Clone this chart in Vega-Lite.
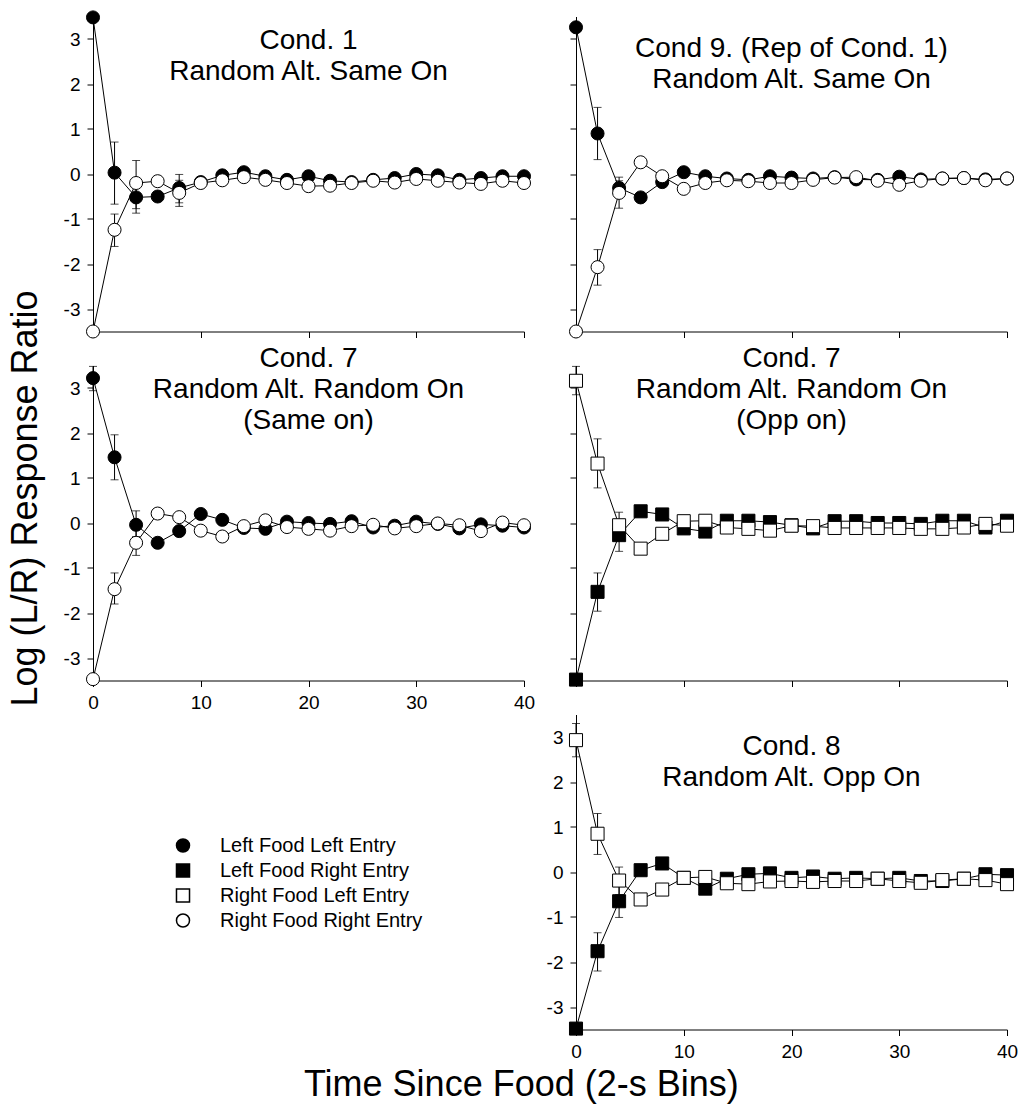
{
  "$schema": "https://vega.github.io/schema/vega-lite/v6.json",
  "background": "white",
  "padding": {"left": 7, "top": 8.5, "right": 5, "bottom": 5},
  "datasets": {
    "obs": [
      {"panel":"c1","series":"Left Food Left Entry","bin":0,"ratio":3.48},
      {"panel":"c1","series":"Left Food Left Entry","bin":2,"ratio":0.03,"lo":-0.67,"hi":0.71},
      {"panel":"c1","series":"Left Food Left Entry","bin":4,"ratio":-0.52,"lo":-0.87,"hi":-0.2},
      {"panel":"c1","series":"Left Food Left Entry","bin":6,"ratio":-0.5},
      {"panel":"c1","series":"Left Food Left Entry","bin":8,"ratio":-0.31,"lo":-0.64,"hi":-0.01},
      {"panel":"c1","series":"Left Food Left Entry","bin":10,"ratio":-0.18},
      {"panel":"c1","series":"Left Food Left Entry","bin":12,"ratio":-0.03},
      {"panel":"c1","series":"Left Food Left Entry","bin":14,"ratio":0.04},
      {"panel":"c1","series":"Left Food Left Entry","bin":16,"ratio":-0.05},
      {"panel":"c1","series":"Left Food Left Entry","bin":18,"ratio":-0.13},
      {"panel":"c1","series":"Left Food Left Entry","bin":20,"ratio":-0.05},
      {"panel":"c1","series":"Left Food Left Entry","bin":22,"ratio":-0.15},
      {"panel":"c1","series":"Left Food Left Entry","bin":24,"ratio":-0.18},
      {"panel":"c1","series":"Left Food Left Entry","bin":26,"ratio":-0.13},
      {"panel":"c1","series":"Left Food Left Entry","bin":28,"ratio":-0.09},
      {"panel":"c1","series":"Left Food Left Entry","bin":30,"ratio":0.0},
      {"panel":"c1","series":"Left Food Left Entry","bin":32,"ratio":-0.03},
      {"panel":"c1","series":"Left Food Left Entry","bin":34,"ratio":-0.13},
      {"panel":"c1","series":"Left Food Left Entry","bin":36,"ratio":-0.09},
      {"panel":"c1","series":"Left Food Left Entry","bin":38,"ratio":-0.05},
      {"panel":"c1","series":"Left Food Left Entry","bin":40,"ratio":-0.05},
      {"panel":"c1","series":"Right Food Right Entry","bin":0,"ratio":-3.5},
      {"panel":"c1","series":"Right Food Right Entry","bin":2,"ratio":-1.24,"lo":-1.61,"hi":-0.89},
      {"panel":"c1","series":"Right Food Right Entry","bin":4,"ratio":-0.2,"lo":-0.77,"hi":0.3},
      {"panel":"c1","series":"Right Food Right Entry","bin":6,"ratio":-0.16},
      {"panel":"c1","series":"Right Food Right Entry","bin":8,"ratio":-0.42,"lo":-0.72,"hi":-0.14},
      {"panel":"c1","series":"Right Food Right Entry","bin":10,"ratio":-0.2},
      {"panel":"c1","series":"Right Food Right Entry","bin":12,"ratio":-0.14},
      {"panel":"c1","series":"Right Food Right Entry","bin":14,"ratio":-0.07},
      {"panel":"c1","series":"Right Food Right Entry","bin":16,"ratio":-0.13},
      {"panel":"c1","series":"Right Food Right Entry","bin":18,"ratio":-0.2},
      {"panel":"c1","series":"Right Food Right Entry","bin":20,"ratio":-0.27},
      {"panel":"c1","series":"Right Food Right Entry","bin":22,"ratio":-0.26},
      {"panel":"c1","series":"Right Food Right Entry","bin":24,"ratio":-0.2},
      {"panel":"c1","series":"Right Food Right Entry","bin":26,"ratio":-0.15},
      {"panel":"c1","series":"Right Food Right Entry","bin":28,"ratio":-0.19},
      {"panel":"c1","series":"Right Food Right Entry","bin":30,"ratio":-0.11},
      {"panel":"c1","series":"Right Food Right Entry","bin":32,"ratio":-0.15},
      {"panel":"c1","series":"Right Food Right Entry","bin":34,"ratio":-0.19},
      {"panel":"c1","series":"Right Food Right Entry","bin":36,"ratio":-0.22},
      {"panel":"c1","series":"Right Food Right Entry","bin":38,"ratio":-0.15},
      {"panel":"c1","series":"Right Food Right Entry","bin":40,"ratio":-0.2},

      {"panel":"c9","series":"Left Food Left Entry","bin":0,"ratio":3.26},
      {"panel":"c9","series":"Left Food Left Entry","bin":2,"ratio":0.9,"lo":0.32,"hi":1.48},
      {"panel":"c9","series":"Left Food Left Entry","bin":4,"ratio":-0.31,"lo":-0.5,"hi":-0.07},
      {"panel":"c9","series":"Left Food Left Entry","bin":6,"ratio":-0.52},
      {"panel":"c9","series":"Left Food Left Entry","bin":8,"ratio":-0.18},
      {"panel":"c9","series":"Left Food Left Entry","bin":10,"ratio":0.04},
      {"panel":"c9","series":"Left Food Left Entry","bin":12,"ratio":-0.05},
      {"panel":"c9","series":"Left Food Left Entry","bin":14,"ratio":-0.1},
      {"panel":"c9","series":"Left Food Left Entry","bin":16,"ratio":-0.13},
      {"panel":"c9","series":"Left Food Left Entry","bin":18,"ratio":-0.05},
      {"panel":"c9","series":"Left Food Left Entry","bin":20,"ratio":-0.08},
      {"panel":"c9","series":"Left Food Left Entry","bin":22,"ratio":-0.1},
      {"panel":"c9","series":"Left Food Left Entry","bin":24,"ratio":-0.07},
      {"panel":"c9","series":"Left Food Left Entry","bin":26,"ratio":-0.12},
      {"panel":"c9","series":"Left Food Left Entry","bin":28,"ratio":-0.13},
      {"panel":"c9","series":"Left Food Left Entry","bin":30,"ratio":-0.06},
      {"panel":"c9","series":"Left Food Left Entry","bin":32,"ratio":-0.12},
      {"panel":"c9","series":"Left Food Left Entry","bin":34,"ratio":-0.1},
      {"panel":"c9","series":"Left Food Left Entry","bin":36,"ratio":-0.09},
      {"panel":"c9","series":"Left Food Left Entry","bin":38,"ratio":-0.12},
      {"panel":"c9","series":"Left Food Left Entry","bin":40,"ratio":-0.1},
      {"panel":"c9","series":"Right Food Right Entry","bin":0,"ratio":-3.5},
      {"panel":"c9","series":"Right Food Right Entry","bin":2,"ratio":-2.07,"lo":-2.47,"hi":-1.68},
      {"panel":"c9","series":"Right Food Right Entry","bin":4,"ratio":-0.42,"lo":-0.76,"hi":-0.15},
      {"panel":"c9","series":"Right Food Right Entry","bin":6,"ratio":0.26},
      {"panel":"c9","series":"Right Food Right Entry","bin":8,"ratio":-0.05},
      {"panel":"c9","series":"Right Food Right Entry","bin":10,"ratio":-0.33},
      {"panel":"c9","series":"Right Food Right Entry","bin":12,"ratio":-0.2},
      {"panel":"c9","series":"Right Food Right Entry","bin":14,"ratio":-0.14},
      {"panel":"c9","series":"Right Food Right Entry","bin":16,"ratio":-0.16},
      {"panel":"c9","series":"Right Food Right Entry","bin":18,"ratio":-0.2},
      {"panel":"c9","series":"Right Food Right Entry","bin":20,"ratio":-0.2},
      {"panel":"c9","series":"Right Food Right Entry","bin":22,"ratio":-0.13},
      {"panel":"c9","series":"Right Food Right Entry","bin":24,"ratio":-0.08},
      {"panel":"c9","series":"Right Food Right Entry","bin":26,"ratio":-0.07},
      {"panel":"c9","series":"Right Food Right Entry","bin":28,"ratio":-0.15},
      {"panel":"c9","series":"Right Food Right Entry","bin":30,"ratio":-0.24},
      {"panel":"c9","series":"Right Food Right Entry","bin":32,"ratio":-0.15},
      {"panel":"c9","series":"Right Food Right Entry","bin":34,"ratio":-0.1},
      {"panel":"c9","series":"Right Food Right Entry","bin":36,"ratio":-0.09},
      {"panel":"c9","series":"Right Food Right Entry","bin":38,"ratio":-0.14},
      {"panel":"c9","series":"Right Food Right Entry","bin":40,"ratio":-0.1},

      {"panel":"c7s","series":"Left Food Left Entry","bin":0,"ratio":3.22,"lo":2.94,"hi":3.48},
      {"panel":"c7s","series":"Left Food Left Entry","bin":2,"ratio":1.46,"lo":0.96,"hi":1.96},
      {"panel":"c7s","series":"Left Food Left Entry","bin":4,"ratio":-0.04,"lo":-0.3,"hi":0.27},
      {"panel":"c7s","series":"Left Food Left Entry","bin":6,"ratio":-0.44},
      {"panel":"c7s","series":"Left Food Left Entry","bin":8,"ratio":-0.18},
      {"panel":"c7s","series":"Left Food Left Entry","bin":10,"ratio":0.2},
      {"panel":"c7s","series":"Left Food Left Entry","bin":12,"ratio":0.07},
      {"panel":"c7s","series":"Left Food Left Entry","bin":14,"ratio":-0.11},
      {"panel":"c7s","series":"Left Food Left Entry","bin":16,"ratio":-0.13},
      {"panel":"c7s","series":"Left Food Left Entry","bin":18,"ratio":0.03},
      {"panel":"c7s","series":"Left Food Left Entry","bin":20,"ratio":0.0},
      {"panel":"c7s","series":"Left Food Left Entry","bin":22,"ratio":-0.02},
      {"panel":"c7s","series":"Left Food Left Entry","bin":24,"ratio":0.04},
      {"panel":"c7s","series":"Left Food Left Entry","bin":26,"ratio":-0.1},
      {"panel":"c7s","series":"Left Food Left Entry","bin":28,"ratio":-0.06},
      {"panel":"c7s","series":"Left Food Left Entry","bin":30,"ratio":0.03},
      {"panel":"c7s","series":"Left Food Left Entry","bin":32,"ratio":-0.02},
      {"panel":"c7s","series":"Left Food Left Entry","bin":34,"ratio":-0.12},
      {"panel":"c7s","series":"Left Food Left Entry","bin":36,"ratio":-0.03},
      {"panel":"c7s","series":"Left Food Left Entry","bin":38,"ratio":-0.06},
      {"panel":"c7s","series":"Left Food Left Entry","bin":40,"ratio":-0.1},
      {"panel":"c7s","series":"Right Food Right Entry","bin":0,"ratio":-3.47},
      {"panel":"c7s","series":"Right Food Right Entry","bin":2,"ratio":-1.47,"lo":-1.8,"hi":-1.11},
      {"panel":"c7s","series":"Right Food Right Entry","bin":4,"ratio":-0.44,"lo":-0.72,"hi":-0.15},
      {"panel":"c7s","series":"Right Food Right Entry","bin":6,"ratio":0.21},
      {"panel":"c7s","series":"Right Food Right Entry","bin":8,"ratio":0.13},
      {"panel":"c7s","series":"Right Food Right Entry","bin":10,"ratio":-0.17},
      {"panel":"c7s","series":"Right Food Right Entry","bin":12,"ratio":-0.3},
      {"panel":"c7s","series":"Right Food Right Entry","bin":14,"ratio":-0.07},
      {"panel":"c7s","series":"Right Food Right Entry","bin":16,"ratio":0.06},
      {"panel":"c7s","series":"Right Food Right Entry","bin":18,"ratio":-0.09},
      {"panel":"c7s","series":"Right Food Right Entry","bin":20,"ratio":-0.13},
      {"panel":"c7s","series":"Right Food Right Entry","bin":22,"ratio":-0.17},
      {"panel":"c7s","series":"Right Food Right Entry","bin":24,"ratio":-0.07},
      {"panel":"c7s","series":"Right Food Right Entry","bin":26,"ratio":-0.04},
      {"panel":"c7s","series":"Right Food Right Entry","bin":28,"ratio":-0.12},
      {"panel":"c7s","series":"Right Food Right Entry","bin":30,"ratio":-0.07},
      {"panel":"c7s","series":"Right Food Right Entry","bin":32,"ratio":-0.01},
      {"panel":"c7s","series":"Right Food Right Entry","bin":34,"ratio":-0.05},
      {"panel":"c7s","series":"Right Food Right Entry","bin":36,"ratio":-0.18},
      {"panel":"c7s","series":"Right Food Right Entry","bin":38,"ratio":0.01},
      {"panel":"c7s","series":"Right Food Right Entry","bin":40,"ratio":-0.05},

      {"panel":"c7o","series":"Left Food Right Entry","bin":0,"ratio":-3.48},
      {"panel":"c7o","series":"Left Food Right Entry","bin":2,"ratio":-1.53,"lo":-1.96,"hi":-1.11},
      {"panel":"c7o","series":"Left Food Right Entry","bin":4,"ratio":-0.27,"lo":-0.63,"hi":0.0},
      {"panel":"c7o","series":"Left Food Right Entry","bin":6,"ratio":0.26},
      {"panel":"c7o","series":"Left Food Right Entry","bin":8,"ratio":0.19},
      {"panel":"c7o","series":"Left Food Right Entry","bin":10,"ratio":-0.12},
      {"panel":"c7o","series":"Left Food Right Entry","bin":12,"ratio":-0.19},
      {"panel":"c7o","series":"Left Food Right Entry","bin":14,"ratio":0.05},
      {"panel":"c7o","series":"Left Food Right Entry","bin":16,"ratio":0.05},
      {"panel":"c7o","series":"Left Food Right Entry","bin":18,"ratio":0.02},
      {"panel":"c7o","series":"Left Food Right Entry","bin":20,"ratio":-0.05},
      {"panel":"c7o","series":"Left Food Right Entry","bin":22,"ratio":-0.12},
      {"panel":"c7o","series":"Left Food Right Entry","bin":24,"ratio":0.04},
      {"panel":"c7o","series":"Left Food Right Entry","bin":26,"ratio":0.04},
      {"panel":"c7o","series":"Left Food Right Entry","bin":28,"ratio":0.0},
      {"panel":"c7o","series":"Left Food Right Entry","bin":30,"ratio":0.0},
      {"panel":"c7o","series":"Left Food Right Entry","bin":32,"ratio":-0.02},
      {"panel":"c7o","series":"Left Food Right Entry","bin":34,"ratio":0.05},
      {"panel":"c7o","series":"Left Food Right Entry","bin":36,"ratio":0.05},
      {"panel":"c7o","series":"Left Food Right Entry","bin":38,"ratio":-0.1},
      {"panel":"c7o","series":"Left Food Right Entry","bin":40,"ratio":0.05},
      {"panel":"c7o","series":"Right Food Left Entry","bin":0,"ratio":3.16,"lo":2.85,"hi":3.48},
      {"panel":"c7o","series":"Right Food Left Entry","bin":2,"ratio":1.32,"lo":0.78,"hi":1.87},
      {"panel":"c7o","series":"Right Food Left Entry","bin":4,"ratio":-0.05,"lo":-0.3,"hi":0.24},
      {"panel":"c7o","series":"Right Food Left Entry","bin":6,"ratio":-0.57},
      {"panel":"c7o","series":"Right Food Left Entry","bin":8,"ratio":-0.24},
      {"panel":"c7o","series":"Right Food Left Entry","bin":10,"ratio":0.04},
      {"panel":"c7o","series":"Right Food Left Entry","bin":12,"ratio":0.05},
      {"panel":"c7o","series":"Right Food Left Entry","bin":14,"ratio":-0.1},
      {"panel":"c7o","series":"Right Food Left Entry","bin":16,"ratio":-0.13},
      {"panel":"c7o","series":"Right Food Left Entry","bin":18,"ratio":-0.17},
      {"panel":"c7o","series":"Right Food Left Entry","bin":20,"ratio":-0.06},
      {"panel":"c7o","series":"Right Food Left Entry","bin":22,"ratio":-0.07},
      {"panel":"c7o","series":"Right Food Left Entry","bin":24,"ratio":-0.11},
      {"panel":"c7o","series":"Right Food Left Entry","bin":26,"ratio":-0.11},
      {"panel":"c7o","series":"Right Food Left Entry","bin":28,"ratio":-0.11},
      {"panel":"c7o","series":"Right Food Left Entry","bin":30,"ratio":-0.11},
      {"panel":"c7o","series":"Right Food Left Entry","bin":32,"ratio":-0.13},
      {"panel":"c7o","series":"Right Food Left Entry","bin":34,"ratio":-0.13},
      {"panel":"c7o","series":"Right Food Left Entry","bin":36,"ratio":-0.1},
      {"panel":"c7o","series":"Right Food Left Entry","bin":38,"ratio":-0.02},
      {"panel":"c7o","series":"Right Food Left Entry","bin":40,"ratio":-0.06},

      {"panel":"c8","series":"Left Food Right Entry","bin":0,"ratio":-3.48},
      {"panel":"c8","series":"Left Food Right Entry","bin":2,"ratio":-1.76,"lo":-2.2,"hi":-1.35},
      {"panel":"c8","series":"Left Food Right Entry","bin":4,"ratio":-0.65,"lo":-1.01,"hi":-0.3},
      {"panel":"c8","series":"Left Food Right Entry","bin":6,"ratio":0.04},
      {"panel":"c8","series":"Left Food Right Entry","bin":8,"ratio":0.19},
      {"panel":"c8","series":"Left Food Right Entry","bin":10,"ratio":-0.13},
      {"panel":"c8","series":"Left Food Right Entry","bin":12,"ratio":-0.37},
      {"panel":"c8","series":"Left Food Right Entry","bin":14,"ratio":-0.15},
      {"panel":"c8","series":"Left Food Right Entry","bin":16,"ratio":-0.05},
      {"panel":"c8","series":"Left Food Right Entry","bin":18,"ratio":-0.03},
      {"panel":"c8","series":"Left Food Right Entry","bin":20,"ratio":-0.13},
      {"panel":"c8","series":"Left Food Right Entry","bin":22,"ratio":-0.1},
      {"panel":"c8","series":"Left Food Right Entry","bin":24,"ratio":-0.15},
      {"panel":"c8","series":"Left Food Right Entry","bin":26,"ratio":-0.13},
      {"panel":"c8","series":"Left Food Right Entry","bin":28,"ratio":-0.15},
      {"panel":"c8","series":"Left Food Right Entry","bin":30,"ratio":-0.13},
      {"panel":"c8","series":"Left Food Right Entry","bin":32,"ratio":-0.2},
      {"panel":"c8","series":"Left Food Right Entry","bin":34,"ratio":-0.2},
      {"panel":"c8","series":"Left Food Right Entry","bin":36,"ratio":-0.15},
      {"panel":"c8","series":"Left Food Right Entry","bin":38,"ratio":-0.05},
      {"panel":"c8","series":"Left Food Right Entry","bin":40,"ratio":-0.07},
      {"panel":"c8","series":"Right Food Left Entry","bin":0,"ratio":2.93,"lo":2.56,"hi":3.3},
      {"panel":"c8","series":"Right Food Left Entry","bin":2,"ratio":0.85,"lo":0.39,"hi":1.3},
      {"panel":"c8","series":"Right Food Left Entry","bin":4,"ratio":-0.19,"lo":-0.5,"hi":0.11},
      {"panel":"c8","series":"Right Food Left Entry","bin":6,"ratio":-0.61},
      {"panel":"c8","series":"Right Food Left Entry","bin":8,"ratio":-0.39},
      {"panel":"c8","series":"Right Food Left Entry","bin":10,"ratio":-0.13},
      {"panel":"c8","series":"Right Food Left Entry","bin":12,"ratio":-0.11},
      {"panel":"c8","series":"Right Food Left Entry","bin":14,"ratio":-0.25},
      {"panel":"c8","series":"Right Food Left Entry","bin":16,"ratio":-0.27},
      {"panel":"c8","series":"Right Food Left Entry","bin":18,"ratio":-0.21},
      {"panel":"c8","series":"Right Food Left Entry","bin":20,"ratio":-0.2},
      {"panel":"c8","series":"Right Food Left Entry","bin":22,"ratio":-0.22},
      {"panel":"c8","series":"Right Food Left Entry","bin":24,"ratio":-0.2},
      {"panel":"c8","series":"Right Food Left Entry","bin":26,"ratio":-0.2},
      {"panel":"c8","series":"Right Food Left Entry","bin":28,"ratio":-0.15},
      {"panel":"c8","series":"Right Food Left Entry","bin":30,"ratio":-0.2},
      {"panel":"c8","series":"Right Food Left Entry","bin":32,"ratio":-0.24},
      {"panel":"c8","series":"Right Food Left Entry","bin":34,"ratio":-0.18},
      {"panel":"c8","series":"Right Food Left Entry","bin":36,"ratio":-0.15},
      {"panel":"c8","series":"Right Food Left Entry","bin":38,"ratio":-0.18},
      {"panel":"c8","series":"Right Food Left Entry","bin":40,"ratio":-0.27}
    ]
  },
  "title": {
    "text": "Time Since Food (2-s Bins)",
    "orient": "bottom",
    "anchor": "middle",
    "frame": "bounds",
    "fontSize": 36,
    "offset": 6,
    "dx": 9,
    "baseline": "top"
  },
  "columns": 2,
  "bounds": "flush",
  "spacing": {"row": 34, "column": 52},
  "concat": [
    {
      "width": 431, "height": 315,
      "title": {"text": ["Cond. 1", "Random Alt. Same On"], "offset": -77},
      "data": {"name": "obs"},
      "transform": [{"filter": "datum.panel == 'c1'"}],
      "encoding": {
        "x": {"field": "bin", "type": "quantitative", "scale": {"domain": [0, 40]}, "axis": {"values": [0, 10, 20, 30, 40], "labels": false, "title": null}},
        "y": {"field": "ratio", "type": "quantitative", "scale": {"domain": [-3.5, 3.5]}, "axis": {"values": [-3, -2, -1, 0, 1, 2, 3], "title": "Log (L/R) Response Ratio", "titleFontSize": 36, "titleY": 481.5, "titlePadding": 19}}
      },
      "layer": [
        {"data": {"values": [{"panel": "c1"}]}, "mark": {"type": "rule", "color": "black", "strokeWidth": 1},
         "encoding": {"x": {"datum": 0, "type": "quantitative", "axis": {"values": [0, 10, 20, 30, 40], "labels": false, "title": null}}, "x2": {"datum": 40}, "y": {"datum": 0, "type": "quantitative", "axis": {"values": [-3, -2, -1, 0, 1, 2, 3], "title": "Log (L/R) Response Ratio", "titleFontSize": 36, "titleY": 481.5, "titlePadding": 19}}}},
        {"mark": {"type": "line", "color": "black", "strokeWidth": 1}, "encoding": {"detail": {"field": "series"}}},
        {"transform": [{"filter": "isValid(datum.lo)"}], "mark": {"type": "rule", "color": "black", "strokeWidth": 1}, "encoding": {"y": {"field": "lo", "type": "quantitative", "axis": {"values": [-3, -2, -1, 0, 1, 2, 3], "title": "Log (L/R) Response Ratio", "titleFontSize": 36, "titleY": 481.5, "titlePadding": 19}}, "y2": {"field": "hi"}}},
        {"transform": [{"filter": "isValid(datum.lo)"}], "mark": {"type": "tick", "orient": "horizontal", "color": "black", "size": 8, "thickness": 1}, "encoding": {"y": {"field": "lo", "type": "quantitative", "axis": {"values": [-3, -2, -1, 0, 1, 2, 3], "title": "Log (L/R) Response Ratio", "titleFontSize": 36, "titleY": 481.5, "titlePadding": 19}}}},
        {"transform": [{"filter": "isValid(datum.hi)"}], "mark": {"type": "tick", "orient": "horizontal", "color": "black", "size": 8, "thickness": 1}, "encoding": {"y": {"field": "hi", "type": "quantitative", "axis": {"values": [-3, -2, -1, 0, 1, 2, 3], "title": "Log (L/R) Response Ratio", "titleFontSize": 36, "titleY": 481.5, "titlePadding": 19}}}},
        {"mark": {"type": "point", "stroke": "black", "strokeWidth": 1, "size": 170, "opacity": 1},
         "encoding": {
           "shape": {"field": "series", "type": "nominal", "scale": {"domain": ["Left Food Left Entry", "Left Food Right Entry", "Right Food Left Entry", "Right Food Right Entry"], "range": ["circle", "square", "square", "circle"]}, "legend": {"title": null, "orient": "none", "legendX": 80, "legendY": 819, "encode": {"symbols": {"stroke": {"value": "black"}, "strokeWidth": {"value": 1}}}}},
           "fill": {"field": "series", "type": "nominal", "scale": {"domain": ["Left Food Left Entry", "Left Food Right Entry", "Right Food Left Entry", "Right Food Right Entry"], "range": ["black", "black", "white", "white"]}, "legend": {"title": null, "orient": "none", "legendX": 80, "legendY": 819, "encode": {"symbols": {"stroke": {"value": "black"}, "strokeWidth": {"value": 1}}}}}
         }}
      ]
    },
    {
      "width": 431, "height": 315,
      "title": {"text": ["Cond 9. (Rep of Cond. 1)", "Random Alt. Same On"], "offset": -77},
      "data": {"name": "obs"},
      "transform": [{"filter": "datum.panel == 'c9'"}],
      "encoding": {
        "x": {"field": "bin", "type": "quantitative", "scale": {"domain": [0, 40]}, "axis": {"values": [0, 10, 20, 30, 40], "labels": false, "title": null}},
        "y": {"field": "ratio", "type": "quantitative", "scale": {"domain": [-3.5, 3.5]}, "axis": {"values": [-3, -2, -1, 0, 1, 2, 3], "labels": false, "title": null}}
      },
      "layer": [
        {"data": {"values": [{"panel": "c9"}]}, "mark": {"type": "rule", "color": "black", "strokeWidth": 1},
         "encoding": {"x": {"datum": 0, "type": "quantitative", "axis": {"values": [0, 10, 20, 30, 40], "labels": false, "title": null}}, "x2": {"datum": 40}, "y": {"datum": 0, "type": "quantitative", "axis": {"values": [-3, -2, -1, 0, 1, 2, 3], "labels": false, "title": null}}}},
        {"mark": {"type": "line", "color": "black", "strokeWidth": 1}, "encoding": {"detail": {"field": "series"}}},
        {"transform": [{"filter": "isValid(datum.lo)"}], "mark": {"type": "rule", "color": "black", "strokeWidth": 1}, "encoding": {"y": {"field": "lo", "type": "quantitative", "axis": {"values": [-3, -2, -1, 0, 1, 2, 3], "labels": false, "title": null}}, "y2": {"field": "hi"}}},
        {"transform": [{"filter": "isValid(datum.lo)"}], "mark": {"type": "tick", "orient": "horizontal", "color": "black", "size": 8, "thickness": 1}, "encoding": {"y": {"field": "lo", "type": "quantitative", "axis": {"values": [-3, -2, -1, 0, 1, 2, 3], "labels": false, "title": null}}}},
        {"transform": [{"filter": "isValid(datum.hi)"}], "mark": {"type": "tick", "orient": "horizontal", "color": "black", "size": 8, "thickness": 1}, "encoding": {"y": {"field": "hi", "type": "quantitative", "axis": {"values": [-3, -2, -1, 0, 1, 2, 3], "labels": false, "title": null}}}},
        {"mark": {"type": "point", "stroke": "black", "strokeWidth": 1, "size": 170, "opacity": 1},
         "encoding": {
           "shape": {"field": "series", "type": "nominal", "scale": {"domain": ["Left Food Left Entry", "Left Food Right Entry", "Right Food Left Entry", "Right Food Right Entry"], "range": ["circle", "square", "square", "circle"]}, "legend": {"title": null, "orient": "none", "legendX": 80, "legendY": 819, "encode": {"symbols": {"stroke": {"value": "black"}, "strokeWidth": {"value": 1}}}}},
           "fill": {"field": "series", "type": "nominal", "scale": {"domain": ["Left Food Left Entry", "Left Food Right Entry", "Right Food Left Entry", "Right Food Right Entry"], "range": ["black", "black", "white", "white"]}, "legend": {"title": null, "orient": "none", "legendX": 80, "legendY": 819, "encode": {"symbols": {"stroke": {"value": "black"}, "strokeWidth": {"value": 1}}}}}
         }}
      ]
    },
    {
      "width": 431, "height": 315,
      "title": {"text": ["Cond. 7", "Random Alt. Random On", "(Same on)"], "offset": -69},
      "data": {"name": "obs"},
      "transform": [{"filter": "datum.panel == 'c7s'"}],
      "encoding": {
        "x": {"field": "bin", "type": "quantitative", "scale": {"domain": [0, 40]}, "axis": {"values": [0, 10, 20, 30, 40], "title": null}},
        "y": {"field": "ratio", "type": "quantitative", "scale": {"domain": [-3.5, 3.5]}, "axis": {"values": [-3, -2, -1, 0, 1, 2, 3], "title": null}}
      },
      "layer": [
        {"data": {"values": [{"panel": "c7s"}]}, "mark": {"type": "rule", "color": "black", "strokeWidth": 1},
         "encoding": {"x": {"datum": 0, "type": "quantitative", "axis": {"values": [0, 10, 20, 30, 40], "title": null}}, "x2": {"datum": 40}, "y": {"datum": 0, "type": "quantitative", "axis": {"values": [-3, -2, -1, 0, 1, 2, 3], "title": null}}}},
        {"mark": {"type": "line", "color": "black", "strokeWidth": 1}, "encoding": {"detail": {"field": "series"}}},
        {"transform": [{"filter": "isValid(datum.lo)"}], "mark": {"type": "rule", "color": "black", "strokeWidth": 1}, "encoding": {"y": {"field": "lo", "type": "quantitative", "axis": {"values": [-3, -2, -1, 0, 1, 2, 3], "title": null}}, "y2": {"field": "hi"}}},
        {"transform": [{"filter": "isValid(datum.lo)"}], "mark": {"type": "tick", "orient": "horizontal", "color": "black", "size": 8, "thickness": 1}, "encoding": {"y": {"field": "lo", "type": "quantitative", "axis": {"values": [-3, -2, -1, 0, 1, 2, 3], "title": null}}}},
        {"transform": [{"filter": "isValid(datum.hi)"}], "mark": {"type": "tick", "orient": "horizontal", "color": "black", "size": 8, "thickness": 1}, "encoding": {"y": {"field": "hi", "type": "quantitative", "axis": {"values": [-3, -2, -1, 0, 1, 2, 3], "title": null}}}},
        {"mark": {"type": "point", "stroke": "black", "strokeWidth": 1, "size": 170, "opacity": 1},
         "encoding": {
           "shape": {"field": "series", "type": "nominal", "scale": {"domain": ["Left Food Left Entry", "Left Food Right Entry", "Right Food Left Entry", "Right Food Right Entry"], "range": ["circle", "square", "square", "circle"]}, "legend": {"title": null, "orient": "none", "legendX": 80, "legendY": 819, "encode": {"symbols": {"stroke": {"value": "black"}, "strokeWidth": {"value": 1}}}}},
           "fill": {"field": "series", "type": "nominal", "scale": {"domain": ["Left Food Left Entry", "Left Food Right Entry", "Right Food Left Entry", "Right Food Right Entry"], "range": ["black", "black", "white", "white"]}, "legend": {"title": null, "orient": "none", "legendX": 80, "legendY": 819, "encode": {"symbols": {"stroke": {"value": "black"}, "strokeWidth": {"value": 1}}}}}
         }}
      ]
    },
    {
      "width": 431, "height": 315,
      "title": {"text": ["Cond. 7", "Random Alt. Random On", "(Opp on)"], "offset": -69},
      "data": {"name": "obs"},
      "transform": [{"filter": "datum.panel == 'c7o'"}],
      "encoding": {
        "x": {"field": "bin", "type": "quantitative", "scale": {"domain": [0, 40]}, "axis": {"values": [0, 10, 20, 30, 40], "labels": false, "title": null}},
        "y": {"field": "ratio", "type": "quantitative", "scale": {"domain": [-3.5, 3.5]}, "axis": {"values": [-3, -2, -1, 0, 1, 2, 3], "labels": false, "title": null}}
      },
      "layer": [
        {"data": {"values": [{"panel": "c7o"}]}, "mark": {"type": "rule", "color": "black", "strokeWidth": 1},
         "encoding": {"x": {"datum": 0, "type": "quantitative", "axis": {"values": [0, 10, 20, 30, 40], "labels": false, "title": null}}, "x2": {"datum": 40}, "y": {"datum": 0, "type": "quantitative", "axis": {"values": [-3, -2, -1, 0, 1, 2, 3], "labels": false, "title": null}}}},
        {"mark": {"type": "line", "color": "black", "strokeWidth": 1}, "encoding": {"detail": {"field": "series"}}},
        {"transform": [{"filter": "isValid(datum.lo)"}], "mark": {"type": "rule", "color": "black", "strokeWidth": 1}, "encoding": {"y": {"field": "lo", "type": "quantitative", "axis": {"values": [-3, -2, -1, 0, 1, 2, 3], "labels": false, "title": null}}, "y2": {"field": "hi"}}},
        {"transform": [{"filter": "isValid(datum.lo)"}], "mark": {"type": "tick", "orient": "horizontal", "color": "black", "size": 8, "thickness": 1}, "encoding": {"y": {"field": "lo", "type": "quantitative", "axis": {"values": [-3, -2, -1, 0, 1, 2, 3], "labels": false, "title": null}}}},
        {"transform": [{"filter": "isValid(datum.hi)"}], "mark": {"type": "tick", "orient": "horizontal", "color": "black", "size": 8, "thickness": 1}, "encoding": {"y": {"field": "hi", "type": "quantitative", "axis": {"values": [-3, -2, -1, 0, 1, 2, 3], "labels": false, "title": null}}}},
        {"mark": {"type": "point", "stroke": "black", "strokeWidth": 1, "size": 170, "opacity": 1},
         "encoding": {
           "shape": {"field": "series", "type": "nominal", "scale": {"domain": ["Left Food Left Entry", "Left Food Right Entry", "Right Food Left Entry", "Right Food Right Entry"], "range": ["circle", "square", "square", "circle"]}, "legend": {"title": null, "orient": "none", "legendX": 80, "legendY": 819, "encode": {"symbols": {"stroke": {"value": "black"}, "strokeWidth": {"value": 1}}}}},
           "fill": {"field": "series", "type": "nominal", "scale": {"domain": ["Left Food Left Entry", "Left Food Right Entry", "Right Food Left Entry", "Right Food Right Entry"], "range": ["black", "black", "white", "white"]}, "legend": {"title": null, "orient": "none", "legendX": 80, "legendY": 819, "encode": {"symbols": {"stroke": {"value": "black"}, "strokeWidth": {"value": 1}}}}}
         }}
      ]
    },
    {
      "width": 431, "height": 315,
      "data": {"values": []},
      "mark": {"type": "point", "opacity": 0}
    },
    {
      "width": 431, "height": 315,
      "title": {"text": ["Cond. 8", "Random Alt. Opp On"], "offset": -77},
      "data": {"name": "obs"},
      "transform": [{"filter": "datum.panel == 'c8'"}],
      "encoding": {
        "x": {"field": "bin", "type": "quantitative", "scale": {"domain": [0, 40]}, "axis": {"values": [0, 10, 20, 30, 40], "title": null}},
        "y": {"field": "ratio", "type": "quantitative", "scale": {"domain": [-3.5, 3.5]}, "axis": {"values": [-3, -2, -1, 0, 1, 2, 3], "title": null}}
      },
      "layer": [
        {"data": {"values": [{"panel": "c8"}]}, "mark": {"type": "rule", "color": "black", "strokeWidth": 1},
         "encoding": {"x": {"datum": 0, "type": "quantitative", "axis": {"values": [0, 10, 20, 30, 40], "title": null}}, "x2": {"datum": 40}, "y": {"datum": 0, "type": "quantitative", "axis": {"values": [-3, -2, -1, 0, 1, 2, 3], "title": null}}}},
        {"mark": {"type": "line", "color": "black", "strokeWidth": 1}, "encoding": {"detail": {"field": "series"}}},
        {"transform": [{"filter": "isValid(datum.lo)"}], "mark": {"type": "rule", "color": "black", "strokeWidth": 1}, "encoding": {"y": {"field": "lo", "type": "quantitative", "axis": {"values": [-3, -2, -1, 0, 1, 2, 3], "title": null}}, "y2": {"field": "hi"}}},
        {"transform": [{"filter": "isValid(datum.lo)"}], "mark": {"type": "tick", "orient": "horizontal", "color": "black", "size": 8, "thickness": 1}, "encoding": {"y": {"field": "lo", "type": "quantitative", "axis": {"values": [-3, -2, -1, 0, 1, 2, 3], "title": null}}}},
        {"transform": [{"filter": "isValid(datum.hi)"}], "mark": {"type": "tick", "orient": "horizontal", "color": "black", "size": 8, "thickness": 1}, "encoding": {"y": {"field": "hi", "type": "quantitative", "axis": {"values": [-3, -2, -1, 0, 1, 2, 3], "title": null}}}},
        {"mark": {"type": "point", "stroke": "black", "strokeWidth": 1, "size": 170, "opacity": 1},
         "encoding": {
           "shape": {"field": "series", "type": "nominal", "scale": {"domain": ["Left Food Left Entry", "Left Food Right Entry", "Right Food Left Entry", "Right Food Right Entry"], "range": ["circle", "square", "square", "circle"]}, "legend": {"title": null, "orient": "none", "legendX": 80, "legendY": 819, "encode": {"symbols": {"stroke": {"value": "black"}, "strokeWidth": {"value": 1}}}}},
           "fill": {"field": "series", "type": "nominal", "scale": {"domain": ["Left Food Left Entry", "Left Food Right Entry", "Right Food Left Entry", "Right Food Right Entry"], "range": ["black", "black", "white", "white"]}, "legend": {"title": null, "orient": "none", "legendX": 80, "legendY": 819, "encode": {"symbols": {"stroke": {"value": "black"}, "strokeWidth": {"value": 1}}}}}
         }}
      ]
    }
  ],
  "config": {
    "font": "Liberation Sans",
    "locale": {"number": {"decimal": ".", "thousands": ",", "grouping": [3], "currency": ["$", ""], "minus": "-"}},
    "view": {"stroke": null},
    "axis": {
      "grid": false,
      "domainColor": "black",
      "domainWidth": 1,
      "tickColor": "black",
      "tickWidth": 1,
      "tickSize": 6,
      "labelColor": "black",
      "labelFont": "Liberation Sans",
      "labelFontSize": 19,
      "labelPadding": 7,
      "labelFlush": false,
      "titleColor": "black",
      "titleFont": "Liberation Sans",
      "titleFontWeight": "normal"
    },
    "title": {
      "font": "Liberation Sans",
      "fontSize": 28,
      "fontWeight": "normal",
      "color": "black",
      "anchor": "middle",
      "lineHeight": 31,
      "baseline": "bottom"
    },
    "legend": {
      "labelFont": "Liberation Sans",
      "labelFontSize": 20,
      "labelColor": "black",
      "labelLimit": 400,
      "symbolSize": 170,
      "rowPadding": 5,
      "labelOffset": 27,
      "padding": 0
    }
  }
}
